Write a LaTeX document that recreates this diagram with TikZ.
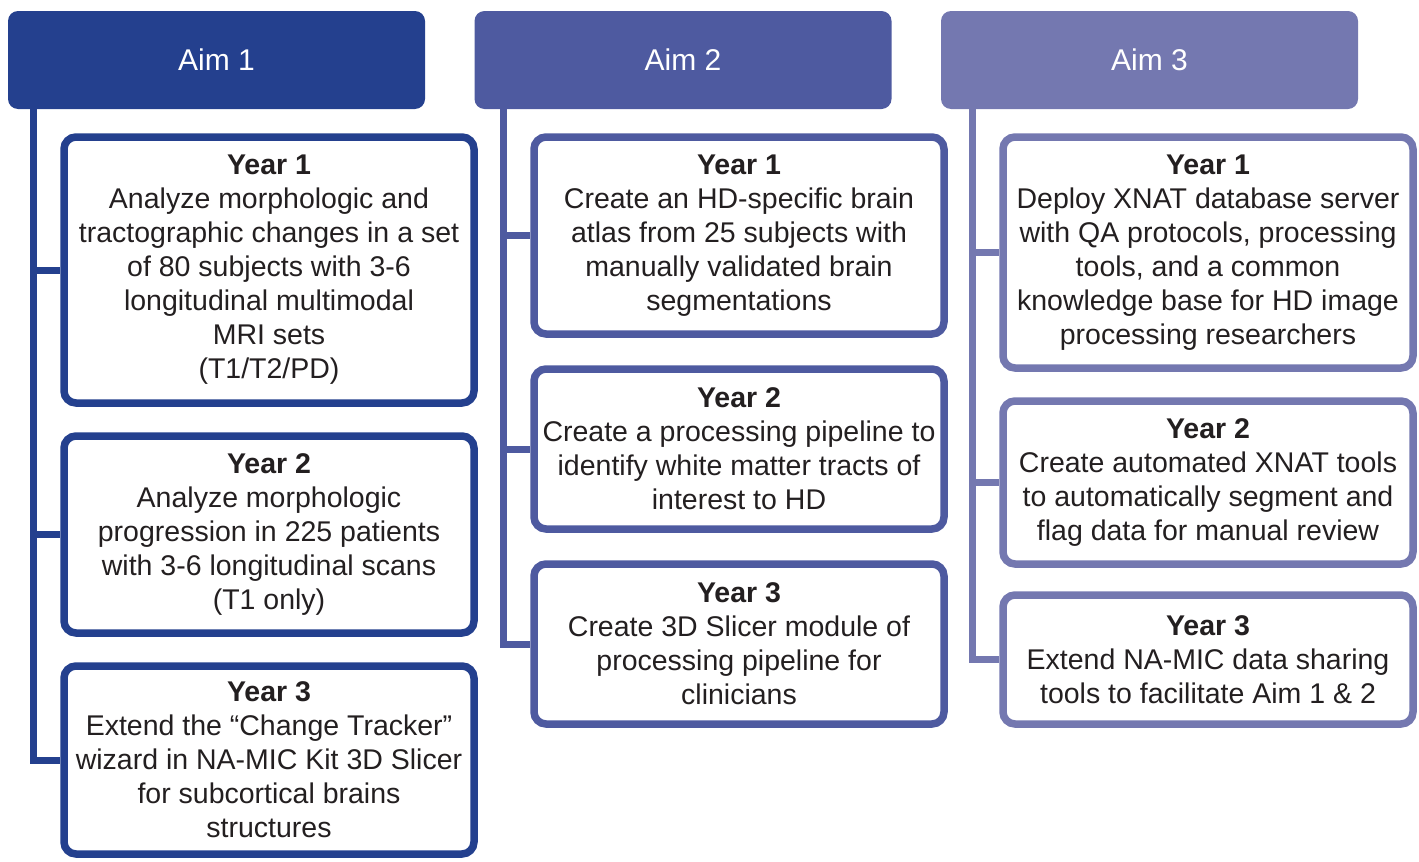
\documentclass[tikz,border=0pt]{standalone}
\usepackage{fontspec}
\setmainfont{Liberation Sans}
\definecolor{cA}{RGB}{36,64,142}
\definecolor{cB}{RGB}{78,90,160}
\definecolor{cC}{RGB}{116,120,176}
\definecolor{txt}{RGB}{35,31,32}
\begin{document}
\begin{tikzpicture}[x=1pt,y=-1pt,
  aimhead/.style={fill=#1, rounded corners=10pt, minimum width=417pt, minimum height=98pt,
    inner sep=0pt, text=white, font=\fontsize{30}{34}\selectfont},
  yearbox/.style={draw=#1, line width=7.5pt, rounded corners=12pt, fill=white, inner sep=0pt,
    align=center, text=txt, font=\fontsize{28.5}{34}\selectfont, minimum width=410pt},
  conn/.style={draw=#1, line width=7pt}]
\useasboundingbox (0,0) rectangle (1419,862);

% headers
\node[aimhead=cA] (h1) at (216.5,60) {Aim 1};
\node[aimhead=cB] (h2) at (683,60) {Aim 2};
\node[aimhead=cC] (h3) at (1149.5,60) {Aim 3};

% connector trunk coordinates
\coordinate (t1) at (33.5,105);
\coordinate (t2) at (503,105);
\coordinate (t3) at (972,105);

% Aim 1 boxes
\node[yearbox=cA, minimum height=266pt] (a1y1) at (269,270)
 {\textbf{Year 1}\\Analyze morphologic and\\tractographic changes in a set\\of 80 subjects with 3-6\\longitudinal multimodal\\MRI sets\\(T1/T2/PD)};
\node[yearbox=cA, minimum height=197pt] (a1y2) at (269,534.5)
 {\textbf{Year 2}\\Analyze morphologic\\progression in 225 patients\\with 3-6 longitudinal scans\\(T1 only)};
\node[yearbox=cA, minimum height=188pt] (a1y3) at (269,760)
 {\textbf{Year 3}\\Extend the “Change Tracker”\\wizard in NA-MIC Kit 3D Slicer\\for subcortical brains\\structures};

% Aim 2 boxes
\node[yearbox=cB, minimum height=197pt] (a2y1) at (739,235.5)
 {\textbf{Year 1}\\Create an HD-specific brain\\atlas from 25 subjects with\\manually validated brain\\segmentations};
\node[yearbox=cB, minimum height=160pt] (a2y2) at (739,449)
 {\textbf{Year 2}\\Create a processing pipeline to\\identify white matter tracts of\\interest to HD};
\node[yearbox=cB, minimum height=160pt] (a2y3) at (739,644)
 {\textbf{Year 3}\\Create 3D Slicer module of\\processing pipeline for\\clinicians};

% Aim 3 boxes
\node[yearbox=cC, minimum height=231pt] (a3y1) at (1208,252.5)
 {\textbf{Year 1}\\Deploy XNAT database server\\with QA protocols, processing\\tools, and a common\\knowledge base for HD image\\processing researchers};
\node[yearbox=cC, minimum height=163pt] (a3y2) at (1208,482.5)
 {\textbf{Year 2}\\Create automated XNAT tools\\to automatically segment and\\flag data for manual review};
\node[yearbox=cC, minimum height=129pt] (a3y3) at (1208,659.5)
 {\textbf{Year 3}\\Extend NA-MIC data sharing\\tools to facilitate Aim 1 \& 2};

% connectors
\draw[conn=cA] (t1) |- (a1y3.west);
\draw[conn=cA] (t1 |- a1y1.west) -- (a1y1.west);
\draw[conn=cA] (t1 |- a1y2.west) -- (a1y2.west);
\draw[conn=cB] (t2) |- (a2y3.west);
\draw[conn=cB] (t2 |- a2y1.west) -- (a2y1.west);
\draw[conn=cB] (t2 |- a2y2.west) -- (a2y2.west);
\draw[conn=cC] (t3) |- (a3y3.west);
\draw[conn=cC] (t3 |- a3y1.west) -- (a3y1.west);
\draw[conn=cC] (t3 |- a3y2.west) -- (a3y2.west);
\end{tikzpicture}
\end{document}
